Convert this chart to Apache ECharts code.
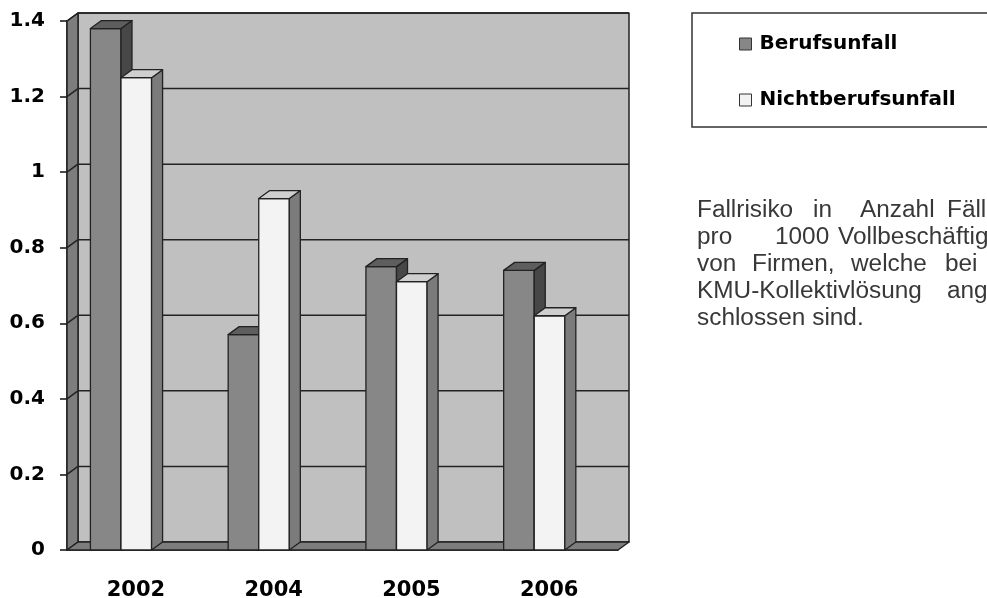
<!DOCTYPE html>
<html>
<head>
<meta charset="utf-8">
<script src="https://cdn.jsdelivr.net/npm/echarts@6/dist/echarts.min.js"></script>
<style>
  html, body { margin: 0; padding: 0; background: #fff; }
  #chart { width: 987px; height: 598px; }
</style>
</head>
<body>
<div id="chart"></div>
<script>
// Werte
var categories = ['2002', '2004', '2005', '2006']
var berufsunfall = [1.38, 0.57, 0.75, 0.74]
var nichtberufsunfall = [1.25, 0.93, 0.71, 0.62]
var yTicks = [0.2, 0.4, 0.6, 0.8, 1.0, 1.2, 1.4]

// Text rechts (Blocksatz, rechts abgeschnitten)
var descLines = [
  [['Fallrisiko', 697], ['in', 813], ['Anzahl', 860], ['Fällen', 947]],
  [['pro', 697], ['1000', 775], ['Vollbeschäftigten', 838]],
  [['von', 697], ['Firmen,', 752], ['welche', 851], ['bei', 945], ['der', 992]],
  [['KMU-Kollektivlösung', 697], ['ange-', 947]],
  [['schlossen sind.', 697]]
]

// 3D Tiefe
var DX = 11
var DY = 8
var lineCol = '#222'

function wallItem(params, api) {
  var cs = params.coordSys
  var left = cs.x
  var right = cs.x + cs.width
  var top = cs.y
  var bottom = cs.y + cs.height
  var st = { stroke: lineCol, lineWidth: 1.5, lineJoin: 'round' }
  return {
    type: 'group',
    children: [
      { type: 'rect', shape: { x: left + DX, y: top - DY, width: cs.width, height: cs.height },
        style: Object.assign({ fill: '#c0c0c0' }, st) },
      { type: 'polygon', shape: { points: [[left, top], [left + DX, top - DY], [left + DX, bottom - DY], [left, bottom]] },
        style: Object.assign({ fill: '#7d7d7d' }, st) },
      { type: 'polygon', shape: { points: [[left, bottom], [left + DX, bottom - DY], [right + DX, bottom - DY], [right, bottom]] },
        style: Object.assign({ fill: '#7d7d7d' }, st) }
    ]
  }
}

function gridItem(params, api) {
  var cs = params.coordSys
  var y = api.coord([0, api.value(1)])[1]
  var st = { stroke: lineCol, lineWidth: 1.5 }
  return {
    type: 'group',
    children: [
      { type: 'line', shape: { x1: cs.x + DX, y1: y - DY, x2: cs.x + cs.width + DX, y2: y - DY }, style: st },
      { type: 'line', shape: { x1: cs.x, y1: y, x2: cs.x + DX, y2: y - DY }, style: st }
    ]
  }
}

function barItem(idx, cFront, cSide, cTop) {
  return function(params, api) {
    var cat = api.value(0)
    var base = api.coord([cat, 0])
    var topPt = api.coord([cat, api.value(1)])
    var band = api.size([1, 0])[0]
    var w = band * 0.222
    var x0 = base[0] - band * 0.33 + idx * w
    var x1 = x0 + w
    var y0 = topPt[1]
    var yb = base[1]
    var st = { stroke: lineCol, lineWidth: 1.3, lineJoin: 'round' }
    return {
      type: 'group',
      children: [
        { type: 'rect', shape: { x: x0, y: y0, width: w, height: yb - y0 },
          style: Object.assign({ fill: cFront }, st) },
        { type: 'polygon', shape: { points: [[x1, y0], [x1 + DX, y0 - DY], [x1 + DX, yb - DY], [x1, yb]] },
          style: Object.assign({ fill: cSide }, st) },
        { type: 'polygon', shape: { points: [[x0, y0], [x0 + DX, y0 - DY], [x1 + DX, y0 - DY], [x1, y0]] },
          style: Object.assign({ fill: cTop }, st) }
      ]
    }
  }
}

var graphics = [
  { type: 'rect', shape: { x: 692, y: 13, width: 320, height: 114 },
    style: { fill: '#fff', stroke: '#333', lineWidth: 1.5 }, z: 0 }
]
for (var i = 0; i < descLines.length; i++) {
  for (var j = 0; j < descLines[i].length; j++) {
    graphics.push({
      type: 'text',
      x: descLines[i][j][1],
      y: 211 + i * 27,
      scaleX: 1.06,
      style: {
        text: descLines[i][j][0],
        fontFamily: 'Liberation Sans',
        fontSize: 23,
        fill: '#383838',
        verticalAlign: 'middle'
      }
    })
  }
}

var chart = echarts.init(document.getElementById('chart'))
var option = {
  animation: false,
  backgroundColor: '#fff',
  grid: { left: 67, right: 369, top: 21, bottom: 48, outerBoundsMode: 'none' },
  graphic: graphics,
  legend: {
    orient: 'vertical',
    left: 739,
    top: 34,
    padding: 0,
    itemWidth: 12,
    itemHeight: 12,
    itemGap: 36,
    icon: 'rect',
    itemStyle: { borderColor: '#333', borderWidth: 1 },
    textStyle: { fontFamily: 'DejaVu Sans', fontWeight: 'bold', fontSize: 20, lineHeight: 20, color: '#000', padding: [0, 0, 0, 3] },
    data: ['Berufsunfall', 'Nichtberufsunfall']
  },
  xAxis: {
    type: 'category',
    data: categories,
    axisLine: { lineStyle: { color: '#111', width: 1.5 } },
    axisTick: { length: 6, lineStyle: { color: '#111', width: 1.5 } },
    axisLabel: { margin: 30, fontFamily: 'DejaVu Sans', fontWeight: 'bold', fontSize: 21, color: '#000' }
  },
  yAxis: {
    type: 'value',
    min: 0,
    max: 1.4,
    interval: 0.2,
    axisLine: { show: true, lineStyle: { color: '#111', width: 1.5 } },
    axisTick: { show: true, length: 7, lineStyle: { color: '#111', width: 1.5 } },
    splitLine: { show: false },
    axisLabel: { margin: 22, fontFamily: 'DejaVu Sans', fontWeight: 'bold', fontSize: 20, color: '#000' }
  },
  series: [
    { type: 'custom', name: 'wall', z: 1, silent: true, renderItem: wallItem, data: [[0, 0]] },
    { type: 'custom', name: 'grid', z: 1, silent: true, renderItem: gridItem,
      data: yTicks.map(function(v) { return [0, v] }) },
    { type: 'custom', name: 'Berufsunfall', z: 3,
      itemStyle: { color: '#878787' },
      renderItem: barItem(0, '#878787', '#474747', '#5e5e5e'),
      data: berufsunfall.map(function(v, k) { return [k, v] }) },
    { type: 'custom', name: 'Nichtberufsunfall', z: 3,
      itemStyle: { color: '#f2f2f2' },
      renderItem: barItem(1, '#f3f3f3', '#7b7b7b', '#cfcfcf'),
      data: nichtberufsunfall.map(function(v, k) { return [k, v] }) }
  ]
}
chart.setOption(option)
</script>
</body>
</html>
